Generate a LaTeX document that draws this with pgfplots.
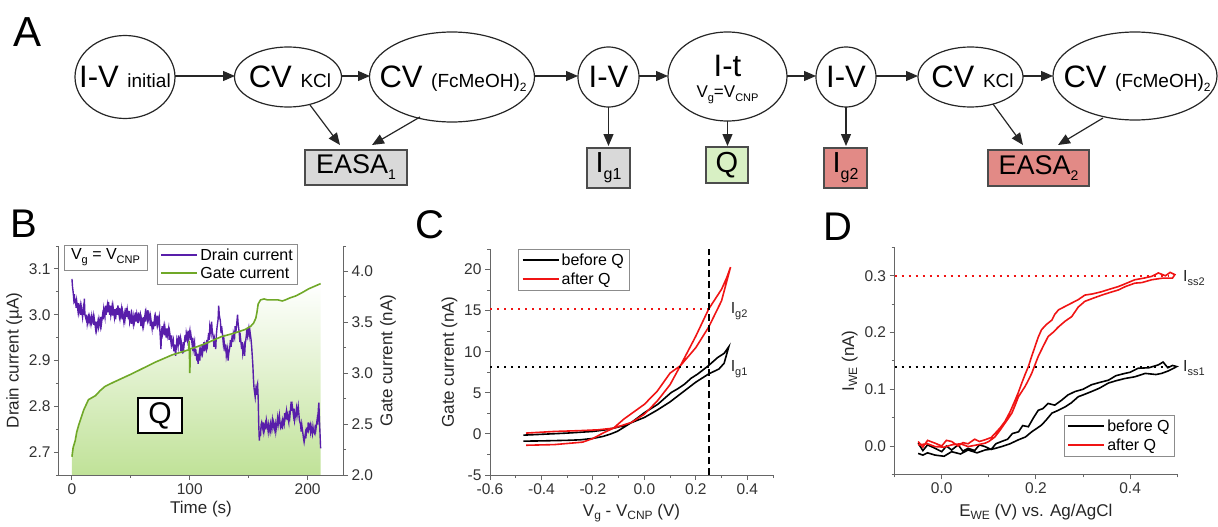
\documentclass[border=0pt]{standalone}
\usepackage{fontspec}
\setmainfont{Liberation Sans}
\usepackage{pgfplots}
\pgfplotsset{compat=1.18}
\usetikzlibrary{arrows.meta}

\definecolor{drain}{RGB}{88,30,170}
\definecolor{gate}{RGB}{112,168,40}
\definecolor{qfill}{RGB}{192,226,152}
\definecolor{cvred}{RGB}{240,20,20}
\definecolor{boxgray}{RGB}{217,217,217}
\definecolor{boxgreen}{RGB}{216,240,196}
\definecolor{boxred}{RGB}{226,138,134}

\newcommand{\fs}[1]{\fontsize{#1}{#1}\selectfont}
\newcommand{\sbs}[3]{\raisebox{-#2pt}{\fs{#1}#3}}

\pgfplotsset{
  panel/.style={
    scale only axis, anchor=south west,
    axis line style={black!60, line width=1pt},
    tick align=outside,
    major tick length=5pt, minor tick length=3pt,
    every tick/.style={black!60, line width=1pt},
    tick label style={font=\fs{15.5}, text=black!80},
    label style={font=\fs{17}, text=black!85},
    /pgf/number format/assume math mode=true,
    legend style={draw=black!45, line width=0.8pt, font=\fs{16},
      inner xsep=3pt, inner ysep=2.5pt, row sep=1.5pt},
    legend cell align=left,
  },
  lline/.style={legend image code/.code={\draw[#1] (0pt,0.5pt) -- (36pt,0.5pt);}},
  xdec/.style={xticklabel style={/pgf/number format/.cd, fixed, fixed zerofill, precision=1, /tikz/.cd}},
  ydec/.style={yticklabel style={/pgf/number format/.cd, fixed, fixed zerofill, precision=1, /tikz/.cd}},
  refdot/.style={line width=2pt, dash pattern=on 2pt off 5pt, forget plot},
}

\begin{document}
\begin{tikzpicture}
\path[use as bounding box] (0,0) rectangle (1218pt,-527pt);

% ---------------- panel A: flow diagram ----------------
\begin{scope}[x=1pt, y=-1pt, line width=1.2pt]
\tikzset{arr/.style={draw=black!85, -{Triangle[length=12pt,width=10pt]}},
         ell/.style={draw=black!85},
         bx/.style={draw=black!70, inner sep=0pt}}
\node[anchor=base west, inner sep=0, font=\fs{42}] at (13,47) {A};

\draw[ell] (125,77) ellipse [x radius=50pt, y radius=41.5pt];
\draw[ell] (288,77) ellipse [x radius=53.5pt, y radius=30pt];
\draw[ell] (452,77) ellipse [x radius=82.5pt, y radius=45pt];
\draw[ell] (608.5,77) ellipse [x radius=30.5pt, y radius=30pt];
\draw[ell] (727.5,76.5) ellipse [x radius=59.5pt, y radius=44.5pt];
\draw[ell] (846,77) ellipse [x radius=30pt, y radius=30pt];
\draw[ell] (970.5,77) ellipse [x radius=52.5pt, y radius=30pt];
\draw[ell] (1135,76) ellipse [x radius=82pt, y radius=44pt];

\node[anchor=base, inner sep=0] at (125,88) {\fs{31}I-V \fs{19}initial};
\node[anchor=base, inner sep=0] at (290,88) {\fs{31}CV \fs{19}KCl};
\node[anchor=base, inner sep=0] at (453,88) {\fs{31}CV \fs{19}(FcMeOH)\sbs{12}{4}{2}};
\node[anchor=base, inner sep=0] at (608.5,88) {\fs{31}I-V};
\node[anchor=base, inner sep=0] at (727.5,77) {\fs{31}I-t};
\node[anchor=base, inner sep=0] at (727.5,97) {\fs{17}V\sbs{11}{4}{g}=V\sbs{11}{4}{CNP}};
\node[anchor=base, inner sep=0] at (846,88) {\fs{31}I-V};
\node[anchor=base, inner sep=0] at (972.5,88) {\fs{31}CV \fs{19}KCl};
\node[anchor=base, inner sep=0] at (1137,88) {\fs{31}CV \fs{19}(FcMeOH)\sbs{12}{4}{2}};

\draw[arr] (175,76) -- (235,76);
\draw[arr] (342,76) -- (370,76);
\draw[arr] (535,76) -- (578,76);
\draw[arr] (639,76) -- (668,76);
\draw[arr] (787,76) -- (816,76);
\draw[arr] (876,76) -- (918,76);
\draw[arr] (1023,76) -- (1053,76);

\draw[arr] (310,105) -- (340,145);
\draw[arr] (420,117) -- (372,145);
\draw[arr] (608.5,107) -- (608.5,146);
\draw[arr] (727.5,121) -- (727.5,146);
\draw[arr] (846,107) -- (846,146);
\draw[arr] (993,104) -- (1023,145);
\draw[arr] (1103,118) -- (1058,145);

\node[bx, fill=boxgray, minimum width=102pt, minimum height=35pt, font=\fs{27}] at (356,167.5) {EASA\sbs{14}{6}{1}};
\node[bx, fill=boxgray, minimum width=43pt, minimum height=40pt, font=\fs{29}] at (608.5,168) {I\sbs{16}{7}{g1}};
\node[bx, fill=boxgreen, minimum width=42pt, minimum height=36pt, font=\fs{29}] at (727,165) {Q};
\node[bx, fill=boxred, minimum width=43pt, minimum height=40pt, font=\fs{29}] at (845.5,168) {I\sbs{16}{7}{g2}};
\node[bx, fill=boxred, minimum width=101pt, minimum height=36pt, font=\fs{27}] at (1038.5,168) {EASA\sbs{14}{6}{2}};
\end{scope}

% ---------------- panel B ----------------
\begin{axis}[panel, at={(59pt,-475pt)}, width=284pt, height=229pt,
  xmin=-11, xmax=230, ymin=2, ymax=4.25,
  axis x line=none, axis y line*=right, ydec,
  ytick={2,2.5,3,3.5,4}, minor ytick={2.25,2.75,3.25,3.75,4.25},
  ylabel={Gate current (nA)}]
\addplot[draw=none, bottom color=qfill, top color=white] coordinates {
(0,2.18)(1,2.27)(2.8,2.34)(4,2.42)(5.7,2.49)(8,2.57)(10,2.64)(12,2.69)(14,2.74)
(17,2.76)(20,2.78)(24,2.83)(28,2.87)(35,2.91)(42.5,2.95)(50,2.99)(57,3.03)(64,3.07)
(71,3.11)(78,3.145)(85,3.18)(92,3.205)(99,3.23)(106,3.26)(113,3.29)(120,3.325)
(127,3.36)(135,3.385)(142,3.41)(147,3.43)(151.5,3.46)(154,3.49)(156,3.54)(157,3.6)
(158,3.68)(160,3.72)(163,3.73)(166,3.72)(170,3.72)(175,3.72)(178.5,3.71)(181,3.72)
(185,3.74)(190,3.76)(195,3.79)(201,3.83)(206,3.855)(211,3.88)(211,2)(0,2)};
\end{axis}

\begin{axis}[panel, at={(59pt,-475pt)}, width=284pt, height=229pt,
  xmin=-11, xmax=230, ymin=2.65, ymax=3.15,
  axis x line*=bottom, axis y line*=left, ydec,
  xtick={0,100,200}, minor xtick={50,150},
  ytick={2.7,2.8,2.9,3.0,3.1}, minor ytick={2.65,2.75,2.85,2.95,3.05,3.15},
  xlabel={Time (s)}, ylabel={Drain current (µA)},
  legend style={at={(0.345,1.009)}, anchor=north west}]
\addplot[drain, line width=1.4pt, forget plot] coordinates {
(0,3.078)(0.5,3.06)(1,3.05)(1.5,3.035)(2,3.045)(2.5,3.025)(3,3.035)(3.5,3.015)(4,3.03)(5,3.01)
(5.5,3.025)(6,3.005)(7,3.02)(7.5,3.0)(8,3.015)(9,2.995)(9.5,3.01)(10,3.0)(10.5,3.035)(11,3.0)
(12,2.99)(12.5,3.0)(13,2.98)(14,2.995)(14.5,2.985)(15,2.995)(16,2.98)(16.5,2.995)(17,2.985)
(18,2.998)(18.5,2.978)(19,2.99)(20,2.97)(20.5,2.985)(21,2.968)(22,2.985)(22.5,2.975)(23,2.99)
(24,2.975)(24.5,2.995)(25,2.98)(26,3.0)(26.5,2.99)(27,3.012)(28,2.995)(28.5,3.02)(29,3.0)
(30,3.02)(30.5,3.005)(31,3.028)(32,3.0)(32.5,3.02)(33,3.0)(34,3.018)(34.5,2.998)(35,3.015)
(36,2.995)(36.5,3.012)(37,2.99)(38,3.015)(38.5,3.0)(39,3.02)(40,3.0)(40.5,3.015)(41,2.995)
(42,3.012)(42.5,2.99)(43,3.005)(44,2.985)(44.5,3.0)(45,2.99)(46,3.015)(46.5,2.995)(47,3.01)
(48,2.99)(48.5,3.008)(49,2.985)(50,3.0)(50.5,2.98)(51,2.998)(52,2.98)(52.5,2.995)(53,2.985)
(54,3.005)(54.5,2.985)(55,3.0)(56,2.982)(56.5,3.005)(57,2.99)(58,3.0)(58.5,2.975)(59,2.99)
(60,2.975)(60.5,2.995)(61,2.98)(62,3.0)(62.5,2.985)(63,3.005)(64,2.99)(64.5,3.01)(65,2.99)
(66,3.0)(66.5,2.975)(67,2.99)(68,2.97)(68.5,2.985)(69,2.968)(70,2.99)(70.5,2.975)(71,2.995)
(72,2.98)(72.5,2.998)(73,2.98)(74,2.995)(74.5,2.97)(75,2.95)(75.5,2.925)(76,2.96)(76.5,2.975)
(77,2.96)(78,2.975)(78.5,2.955)(79,2.97)(80,2.95)(80.5,2.97)(81,2.955)(82,2.97)(82.5,2.945)
(83,2.96)(84,2.94)(84.5,2.955)(85,2.935)(86,2.945)(86.5,2.92)(87,2.935)(88,2.91)(88.5,2.93)
(89,2.945)(90,2.93)(90.5,2.955)(91,2.94)(92,2.95)(92.5,2.92)(93,2.935)(94,2.915)(94.5,2.94)
(95,2.93)(96,2.955)(96.5,2.94)(97,2.96)(98,2.945)(98.5,2.965)(99,2.95)(100,2.965)(100.5,2.945)
(101,2.955)(102,2.935)(102.5,2.95)(103,2.925)(104,2.94)(104.5,2.91)(105,2.925)(106,2.9)
(106.5,2.915)(107,2.893)(108,2.915)(108.5,2.9)(109,2.925)(110,2.915)(110.5,2.935)(111,2.92)
(112,2.94)(112.5,2.92)(113,2.935)(114,2.925)(114.5,2.945)(115,2.935)(116,2.96)(116.5,2.945)
(117,2.975)(118,2.96)(118.5,2.985)(119,2.965)(120,2.95)(120.5,2.93)(121,2.945)(122,2.925)
(122.5,2.955)(123,2.97)(124,2.99)(124.5,3.02)(125,3.0)(126,2.985)(126.5,2.96)(127,2.975)
(128,2.95)(128.5,2.935)(129,2.945)(130,2.92)(130.5,2.935)(131,2.91)(132,2.925)(132.5,2.9)
(133,2.915)(134,2.93)(134.5,2.945)(135,2.93)(136,2.955)(136.5,2.94)(137,2.96)(138,2.95)
(138.5,2.975)(139,2.96)(140,2.985)(140.5,3.0)(141,2.98)(142,2.96)(142.5,2.94)(143,2.95)
(144,2.925)(144.5,2.94)(145,2.915)(146,2.93)(146.5,2.91)(147,2.935)(148,2.955)(148.5,2.97)
(149,2.955)(150,2.97)(150.5,2.955)(151,2.965)(152,2.945)(152.5,2.93)(153,2.91)(153.5,2.89)
(154,2.86)(154.5,2.84)(155,2.83)(155.5,2.82)(156,2.835)(156.5,2.825)(157,2.845)(157.5,2.85)
(158,2.82)(158.5,2.76)(159,2.725)(159.5,2.745)(160,2.735)(160.5,2.76)(161,2.765)(162,2.75)
(162.5,2.765)(163,2.745)(164,2.76)(164.5,2.75)(165,2.77)(166,2.755)(166.5,2.745)(167,2.76)
(168,2.745)(168.5,2.76)(169,2.75)(170,2.77)(170.5,2.755)(171,2.765)(172,2.75)(172.5,2.76)
(173,2.745)(174,2.765)(174.5,2.775)(175,2.76)(176,2.78)(176.5,2.765)(177,2.755)(178,2.765)
(178.5,2.75)(179,2.77)(180,2.76)(180.5,2.785)(181,2.775)(182,2.79)(182.5,2.77)(183,2.78)
(184,2.765)(184.5,2.79)(185,2.78)(186,2.81)(186.5,2.79)(187,2.8)(188,2.78)(188.5,2.795)
(189,2.77)(190,2.785)(190.5,2.795)(191,2.78)(192,2.8)(192.5,2.785)(193,2.77)(194,2.76)
(194.5,2.745)(195,2.76)(196,2.74)(196.5,2.73)(197,2.722)(198,2.74)(198.5,2.73)(199,2.75)
(200,2.745)(200.5,2.765)(201,2.75)(202,2.76)(202.5,2.745)(203,2.755)(204,2.74)(204.5,2.755)
(205,2.745)(206,2.74)(206.5,2.76)(207,2.75)(208,2.77)(208.5,2.76)(209,2.79)(209.5,2.808)
(210,2.77)(210.5,2.74)(211,2.708)};
\addlegendimage{lline={drain, line width=2pt}}
\addlegendentry{Drain current}
\addlegendimage{lline={gate, line width=2pt}}
\addlegendentry{Gate current}
\end{axis}

\begin{axis}[panel, at={(59pt,-475pt)}, width=284pt, height=229pt,
  xmin=-11, xmax=230, ymin=2, ymax=4.25, hide axis]
\addplot[gate, line width=1.6pt] coordinates {
(0,2.18)(1,2.27)(2.8,2.34)(4,2.42)(5.7,2.49)(8,2.57)(10,2.64)(12,2.69)(14,2.74)
(17,2.76)(20,2.78)(24,2.83)(28,2.87)(35,2.91)(42.5,2.95)(50,2.99)(57,3.03)(64,3.07)
(71,3.11)(78,3.145)(85,3.18)(92,3.205)(99,3.23)(99.5,3.32)(100,3.0)(100.5,3.24)(106,3.26)
(113,3.29)(120,3.325)(127,3.36)(135,3.385)(142,3.41)(147,3.43)(151.5,3.46)(154,3.49)
(156,3.54)(157,3.6)(158,3.68)(160,3.72)(163,3.73)(166,3.72)(170,3.72)(175,3.72)
(178.5,3.71)(181,3.72)(185,3.74)(190,3.76)(195,3.79)(201,3.83)(206,3.855)(211,3.88)};
\end{axis}

% ---------------- panel C ----------------
\begin{axis}[panel, at={(490pt,-475pt)}, width=283pt, height=226pt,
  xmin=-0.6, xmax=0.5, ymin=-5, ymax=22.5, clip=false,
  axis x line*=bottom, axis y line*=left, xdec,
  xtick={-0.6,-0.4,-0.2,0,0.2,0.4}, minor xtick={-0.5,-0.3,-0.1,0.1,0.3,0.5},
  ytick={-5,0,5,10,15,20}, minor ytick={-2.5,2.5,7.5,12.5,17.5,22.5},
  xlabel={V\sbs{12}{3}{g} - V\sbs{12}{3}{CNP} (V)}, ylabel={Gate current (nA)},
  xlabel style={yshift=-3pt},
  legend style={at={(0.1,1.0)}, anchor=north west}]
\addplot[black, line width=1.6pt, forget plot] coordinates {
(-0.47,-0.15)(-0.4,-0.05)(-0.3,0.1)(-0.2,0.3)(-0.15,0.5)(-0.12,0.7)(-0.08,1.0)(-0.04,1.5)
(0,2.0)(0.05,2.9)(0.1,3.9)(0.15,5.1)(0.2,6.3)(0.25,7.3)(0.29,7.9)(0.31,8.6)(0.328,10.6)
(0.31,9.8)(0.285,9.3)(0.249,8.3)(0.207,7.28)(0.182,6.78)(0.156,6.05)(0.13,5.5)(0.104,5.03)
(0.052,3.6)(0,2.58)(-0.052,1.35)(-0.104,0.33)(-0.13,0.0)(-0.16,-0.3)(-0.2,-0.55)
(-0.25,-0.72)(-0.3,-0.78)(-0.4,-0.85)(-0.47,-0.88)};
\addplot[cvred, line width=1.6pt, forget plot] coordinates {
(-0.46,-1.38)(-0.35,-1.3)(-0.24,-1.0)(-0.2,-0.56)(-0.16,0.12)(-0.12,0.7)(-0.08,1.8)
(-0.04,2.7)(0,3.6)(0.05,5.2)(0.1,7.4)(0.14,8.3)(0.2,10.5)(0.25,13.0)(0.3,16.2)(0.335,20.3)
(0.32,19.0)(0.3,17.6)(0.25,15.2)(0.2,11.9)(0.14,8.3)(0.1,6.0)(0.05,4.0)(0,2.4)(-0.05,1.4)
(-0.12,0.7)(-0.18,0.5)(-0.25,0.4)(-0.35,0.3)(-0.46,0.1)};
\addplot[cvred, refdot] coordinates {(-0.6,15.2)(0.25,15.2)};
\addplot[black, refdot] coordinates {(-0.6,8.2)(0.25,8.2)};
\addplot[black, line width=1.8pt, dash pattern=on 7pt off 4pt, forget plot] coordinates {(0.25,-5)(0.25,22.5)};
\addlegendimage{lline={black, line width=2pt}}
\addlegendentry{before Q}
\addlegendimage{lline={cvred, line width=2pt}}
\addlegendentry{after Q}
\node[anchor=base west, inner sep=0, font=\fs{16}, text=black!85] at (axis cs:0.335,14.6) {I\sbs{11}{4}{g2}};
\node[anchor=base west, inner sep=0, font=\fs{16}, text=black!85] at (axis cs:0.335,7.6) {I\sbs{11}{4}{g1}};
\end{axis}

% ---------------- panel D ----------------
\begin{axis}[panel, at={(894.6pt,-474.4pt)}, width=282.6pt, height=227pt,
  xmin=-0.1, xmax=0.5, ymin=-0.05, ymax=0.35, clip=false,
  axis x line*=bottom, axis y line*=left, xdec, ydec,
  xtick={0,0.2,0.4}, minor xtick={-0.1,0.1,0.3,0.5},
  ytick={0,0.1,0.2,0.3}, minor ytick={-0.05,0.05,0.15,0.25,0.35},
  xlabel={E\sbs{12}{3}{WE} (V) vs. Ag/AgCl}, ylabel={I\sbs{12}{3}{WE} (nA)},
  xlabel style={yshift=-3pt},
  legend style={at={(0.992,0.077)}, anchor=south east}]
\addplot[cvred, refdot] coordinates {(-0.1,0.3)(0.48,0.3)};
\addplot[black, refdot] coordinates {(-0.1,0.139)(0.48,0.139)};
\addplot[black, line width=1.6pt, forget plot] coordinates {
(-0.050,0.005)(-0.040,-0.008)(-0.030,0.002)(-0.014,-0.004)(0.000,-0.010)(0.010,0.000)
(0.021,-0.007)(0.035,0.002)(0.045,-0.009)(0.056,-0.004)(0.070,-0.008)(0.080,0.002)
(0.092,-0.001)(0.105,-0.006)(0.115,0.004)(0.127,0.008)(0.140,0.012)(0.150,0.022)
(0.163,0.025)(0.172,0.036)(0.184,0.034)(0.195,0.050)(0.205,0.063)(0.215,0.066)
(0.226,0.075)(0.240,0.072)(0.255,0.081)(0.268,0.090)(0.283,0.096)(0.300,0.100)
(0.318,0.108)(0.335,0.112)(0.354,0.116)(0.370,0.124)(0.389,0.128)(0.400,0.130)
(0.417,0.137)(0.440,0.138)(0.460,0.143)(0.470,0.148)(0.480,0.138)(0.490,0.142)(0.499,0.140)
(0.490,0.136)(0.480,0.132)(0.467,0.128)(0.455,0.126)(0.432,0.128)(0.410,0.122)
(0.389,0.119)(0.370,0.115)(0.354,0.111)(0.335,0.102)(0.318,0.096)(0.300,0.090)
(0.290,0.087)(0.275,0.076)(0.262,0.069)(0.245,0.062)(0.234,0.058)(0.222,0.046)
(0.212,0.037)(0.200,0.030)(0.191,0.025)(0.178,0.016)(0.163,0.011)(0.145,0.004)
(0.127,-0.001)(0.110,-0.005)(0.092,-0.007)(0.075,-0.012)(0.056,-0.007)(0.040,-0.014)
(0.021,-0.010)(0.005,-0.018)(-0.014,-0.016)(-0.030,-0.012)(-0.040,-0.016)(-0.050,-0.013)};
\addplot[cvred, line width=1.6pt, forget plot] coordinates {
(-0.050,0.008)(-0.040,-0.002)(-0.030,0.010)(-0.014,0.005)(0.000,0.000)(0.010,0.010)
(0.021,0.008)(0.035,0.000)(0.045,0.006)(0.056,0.004)(0.070,0.012)(0.080,0.008)
(0.092,0.011)(0.105,0.015)(0.113,0.022)(0.124,0.032)(0.134,0.043)(0.145,0.060)
(0.156,0.081)(0.163,0.095)(0.170,0.111)(0.177,0.126)(0.184,0.140)(0.191,0.158)
(0.198,0.175)(0.205,0.192)(0.212,0.205)(0.222,0.214)(0.234,0.222)(0.240,0.232)
(0.248,0.240)(0.262,0.246)(0.276,0.252)(0.290,0.258)(0.304,0.266)(0.320,0.268)
(0.340,0.272)(0.355,0.276)(0.375,0.281)(0.390,0.286)(0.410,0.293)(0.430,0.296)
(0.446,0.299)(0.460,0.305)(0.475,0.300)(0.485,0.306)(0.495,0.302)
(0.490,0.296)(0.470,0.296)(0.446,0.293)(0.425,0.288)(0.410,0.287)(0.390,0.281)
(0.375,0.275)(0.355,0.270)(0.340,0.266)(0.320,0.260)(0.304,0.255)(0.290,0.245)
(0.276,0.228)(0.262,0.220)(0.248,0.210)(0.236,0.200)(0.226,0.193)(0.215,0.175)
(0.205,0.158)(0.198,0.143)(0.191,0.128)(0.184,0.116)(0.177,0.105)(0.170,0.096)
(0.163,0.087)(0.156,0.072)(0.149,0.058)(0.140,0.047)(0.134,0.040)(0.124,0.028)
(0.113,0.016)(0.100,0.008)(0.092,0.005)(0.075,0.002)(0.056,-0.001)(0.040,0.004)
(0.021,0.002)(0.005,-0.002)(-0.014,-0.001)(-0.030,0.004)(-0.050,0.002)};
\addlegendimage{lline={black, line width=2pt}}
\addlegendentry{before Q}
\addlegendimage{lline={cvred, line width=2pt}}
\addlegendentry{after Q}
\node[anchor=base west, inner sep=0, font=\fs{16}, text=black!85] at (axis cs:0.512,0.29) {I\sbs{11}{4}{ss2}};
\node[anchor=base west, inner sep=0, font=\fs{16}, text=black!85] at (axis cs:0.512,0.131) {I\sbs{11}{4}{ss1}};
\end{axis}

% ---------------- panel letters and boxes ----------------
\begin{scope}[x=1pt, y=-1pt]
\node[anchor=base west, inner sep=0, font=\fs{40}] at (10,237) {B};
\node[anchor=base west, inner sep=0, font=\fs{40}] at (415,238) {C};
\node[anchor=base west, inner sep=0, font=\fs{40}] at (823,240) {D};
\node[draw=black!45, line width=0.8pt, fill=white, minimum width=83pt, minimum height=25pt,
  inner sep=0pt, font=\fs{16}] at (105.5,257.5) {V\sbs{11}{4}{g} = V\sbs{11}{4}{CNP}};
\node[draw=black, line width=1.2pt, fill=white, minimum width=44pt, minimum height=35pt,
  inner sep=0pt, font=\fs{30}] at (160,415.5) {Q};
\end{scope}
\end{tikzpicture}
\end{document}
